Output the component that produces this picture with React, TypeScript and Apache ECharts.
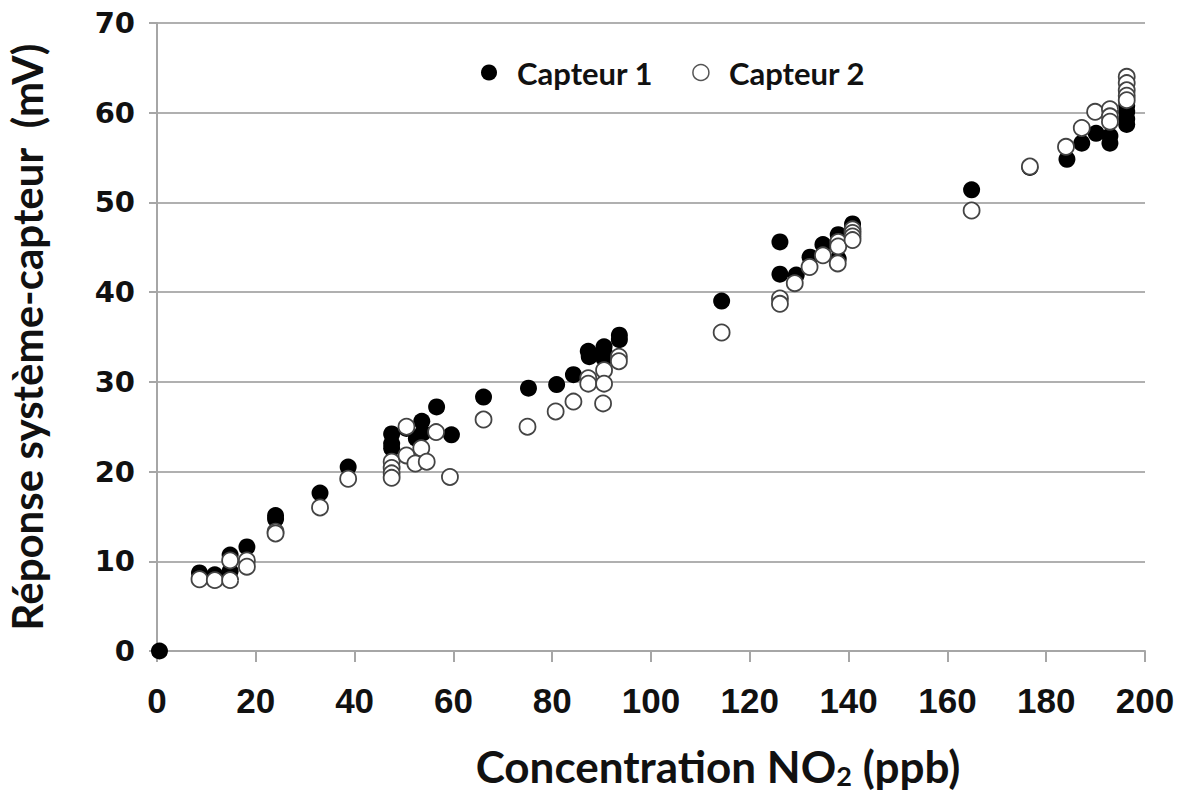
import React, { useEffect, useRef } from "react";
import * as echarts from "echarts";

const xTicks = { min: 0, max: 200, interval: 20 };
const yTicks = { min: 0, max: 70, interval: 10 };

const legendNames = ["Capteur 1", "Capteur 2"];

const capteur1: [number, number][] = [
  [0.5, 0],
  [8.6, 8.7], [11.7, 8.5], [14.8, 10.7], [14.8, 8.9], [18.2, 11.6],
  [24, 15.1], [24, 14.7],
  [33, 17.6],
  [38.7, 20.5],
  [47.5, 24.2], [47.5, 23.1], [47.5, 22.6],
  [50.5, 24.8], [52.5, 23.7], [53.6, 25.6], [53.8, 24.3], [56.6, 27.2], [59.6, 24.1],
  [66.1, 28.3], [75.2, 29.3], [80.9, 29.7], [84.3, 30.8], [87.3, 33.4], [87.5, 32.8],
  [90.5, 33.9], [90.5, 33.3], [90.5, 32.6], [93.6, 35.2], [93.6, 34.7],
  [114.3, 39.0], [126.1, 45.6], [126.1, 42.0], [129.4, 41.9], [132.2, 43.9], [134.8, 45.3],
  [137.9, 46.4], [137.9, 43.7], [140.8, 47.6], [140.8, 47.2],
  [164.9, 51.4], [176.7, 53.9], [184.2, 54.8], [187.2, 56.6], [190.1, 57.7],
  [192.9, 57.4], [192.9, 56.6], [196.3, 60.8], [196.3, 60.1], [196.3, 59.3], [196.3, 58.7],
];

const capteur2: [number, number][] = [
  [8.6, 8.0], [11.7, 7.9], [14.8, 10.1], [14.8, 7.9], [18.2, 10.1], [18.2, 9.4],
  [24, 13.3], [24, 13.1],
  [33, 16.0],
  [38.7, 19.2],
  [47.5, 21.1], [47.5, 20.4], [47.5, 19.8], [47.5, 19.3],
  [50.5, 25.0], [50.5, 21.8], [53.5, 22.6], [52.3, 20.9], [54.6, 21.1], [56.5, 24.4], [59.3, 19.4],
  [66.1, 25.8], [75.0, 25.0], [80.7, 26.7], [84.3, 27.8], [87.3, 30.4], [87.3, 29.8],
  [90.5, 31.3], [90.5, 29.8], [90.3, 27.6], [93.5, 32.8], [93.5, 32.3],
  [114.3, 35.5], [126.1, 39.3], [126.1, 38.7], [129.1, 41.0], [132.1, 42.8], [134.8, 44.1],
  [137.9, 45.6], [137.9, 45.1], [137.8, 43.2], [140.8, 47.0], [140.8, 46.6], [140.8, 46.2], [140.8, 45.8],
  [164.9, 49.1], [176.7, 54.0], [184.0, 56.2], [187.2, 58.3], [189.9, 60.1],
  [192.9, 60.4], [192.9, 59.6], [192.9, 59.0],
  [196.3, 64.0], [196.3, 63.3], [196.3, 62.5], [196.3, 61.9], [196.3, 61.4],
];

export default function App() {
  const ref = useRef<HTMLDivElement>(null);
  useEffect(() => {
    document.body.style.margin = "0";
    const chart = echarts.init(ref.current!, null, { renderer: "svg" });
    const titleFont = "Lato, 'Open Sans', sans-serif";
    chart.setOption({
      animation: false,
      backgroundColor: "#ffffff",
      grid: { left: 157, right: 36, top: 23, bottom: 143, containLabel: false, outerBoundsMode: "none" },
      legend: {
        data: [
          { name: legendNames[0], icon: "circle", itemStyle: { color: "#000", borderWidth: 0 } },
          { name: legendNames[1], icon: "circle", itemStyle: { color: "#fff", borderColor: "#555", borderWidth: 1.5 } },
        ],
        left: 476,
        top: 52,
        itemWidth: 16,
        itemHeight: 16,
        itemGap: 39,
        textStyle: { fontFamily: titleFont, fontWeight: "bold", fontSize: 31, color: "#111", padding: [0, 0, 0, 15] },
      },
      xAxis: {
        type: "value",
        min: xTicks.min,
        max: xTicks.max,
        interval: xTicks.interval,
        name: "Concentration NO{sub|2} (ppb)",
        nameLocation: "middle",
        nameGap: 92,
        nameTextStyle: {
          fontFamily: titleFont,
          fontWeight: "bold",
          fontSize: 44,
          lineHeight: 46,
          color: "#111",
          padding: [0, 0, 0, 134],
          rich: {
            sub: { fontFamily: titleFont, fontWeight: "bold", fontSize: 27, lineHeight: 27, color: "#111", verticalAlign: "bottom", padding: [18, 0, 0, 0] },
          },
        },
        axisLine: { show: true, lineStyle: { color: "#a6a6a6", width: 2 } },
        axisTick: { show: true, length: 11, lineStyle: { color: "#a6a6a6", width: 2 } },
        axisLabel: {
          margin: 32,
          fontFamily: "'Liberation Sans', Arial, sans-serif",
          fontWeight: "bold",
          fontSize: 35,
          color: "#111",
        },
        splitLine: { show: false },
      },
      yAxis: {
        type: "value",
        min: yTicks.min,
        max: yTicks.max,
        interval: yTicks.interval,
        name: "Réponse système-capteur  (mV)",
        nameLocation: "middle",
        nameGap: 109,
        nameRotate: 90,
        nameTextStyle: { fontFamily: titleFont, fontWeight: "bold", fontSize: 42, color: "#111" },
        axisLine: { show: true, lineStyle: { color: "#a6a6a6", width: 2 } },
        axisTick: { show: true, inside: false, length: 8, lineStyle: { color: "#a6a6a6", width: 2 } },
        axisLabel: {
          margin: 22,
          fontFamily: "'DejaVu Sans', Verdana, sans-serif",
          fontWeight: "bold",
          fontSize: 29,
          color: "#111",
        },
        splitLine: { show: true, lineStyle: { color: "#b0b0b0", width: 2 } },
      },
      series: [
        {
          name: legendNames[0],
          type: "scatter",
          data: capteur1,
          symbol: "circle",
          symbolSize: 17,
          itemStyle: { color: "#000", opacity: 1 },
          z: 2,
        },
        {
          name: legendNames[1],
          type: "scatter",
          data: capteur2,
          symbol: "circle",
          symbolSize: 16,
          itemStyle: { color: "#fff", borderColor: "#444", borderWidth: 1.8, opacity: 1 },
          z: 3,
        },
      ],
    });
    return () => chart.dispose();
  }, []);
  return <div ref={ref} style={{ width: 1181, height: 794 }} />;
}
